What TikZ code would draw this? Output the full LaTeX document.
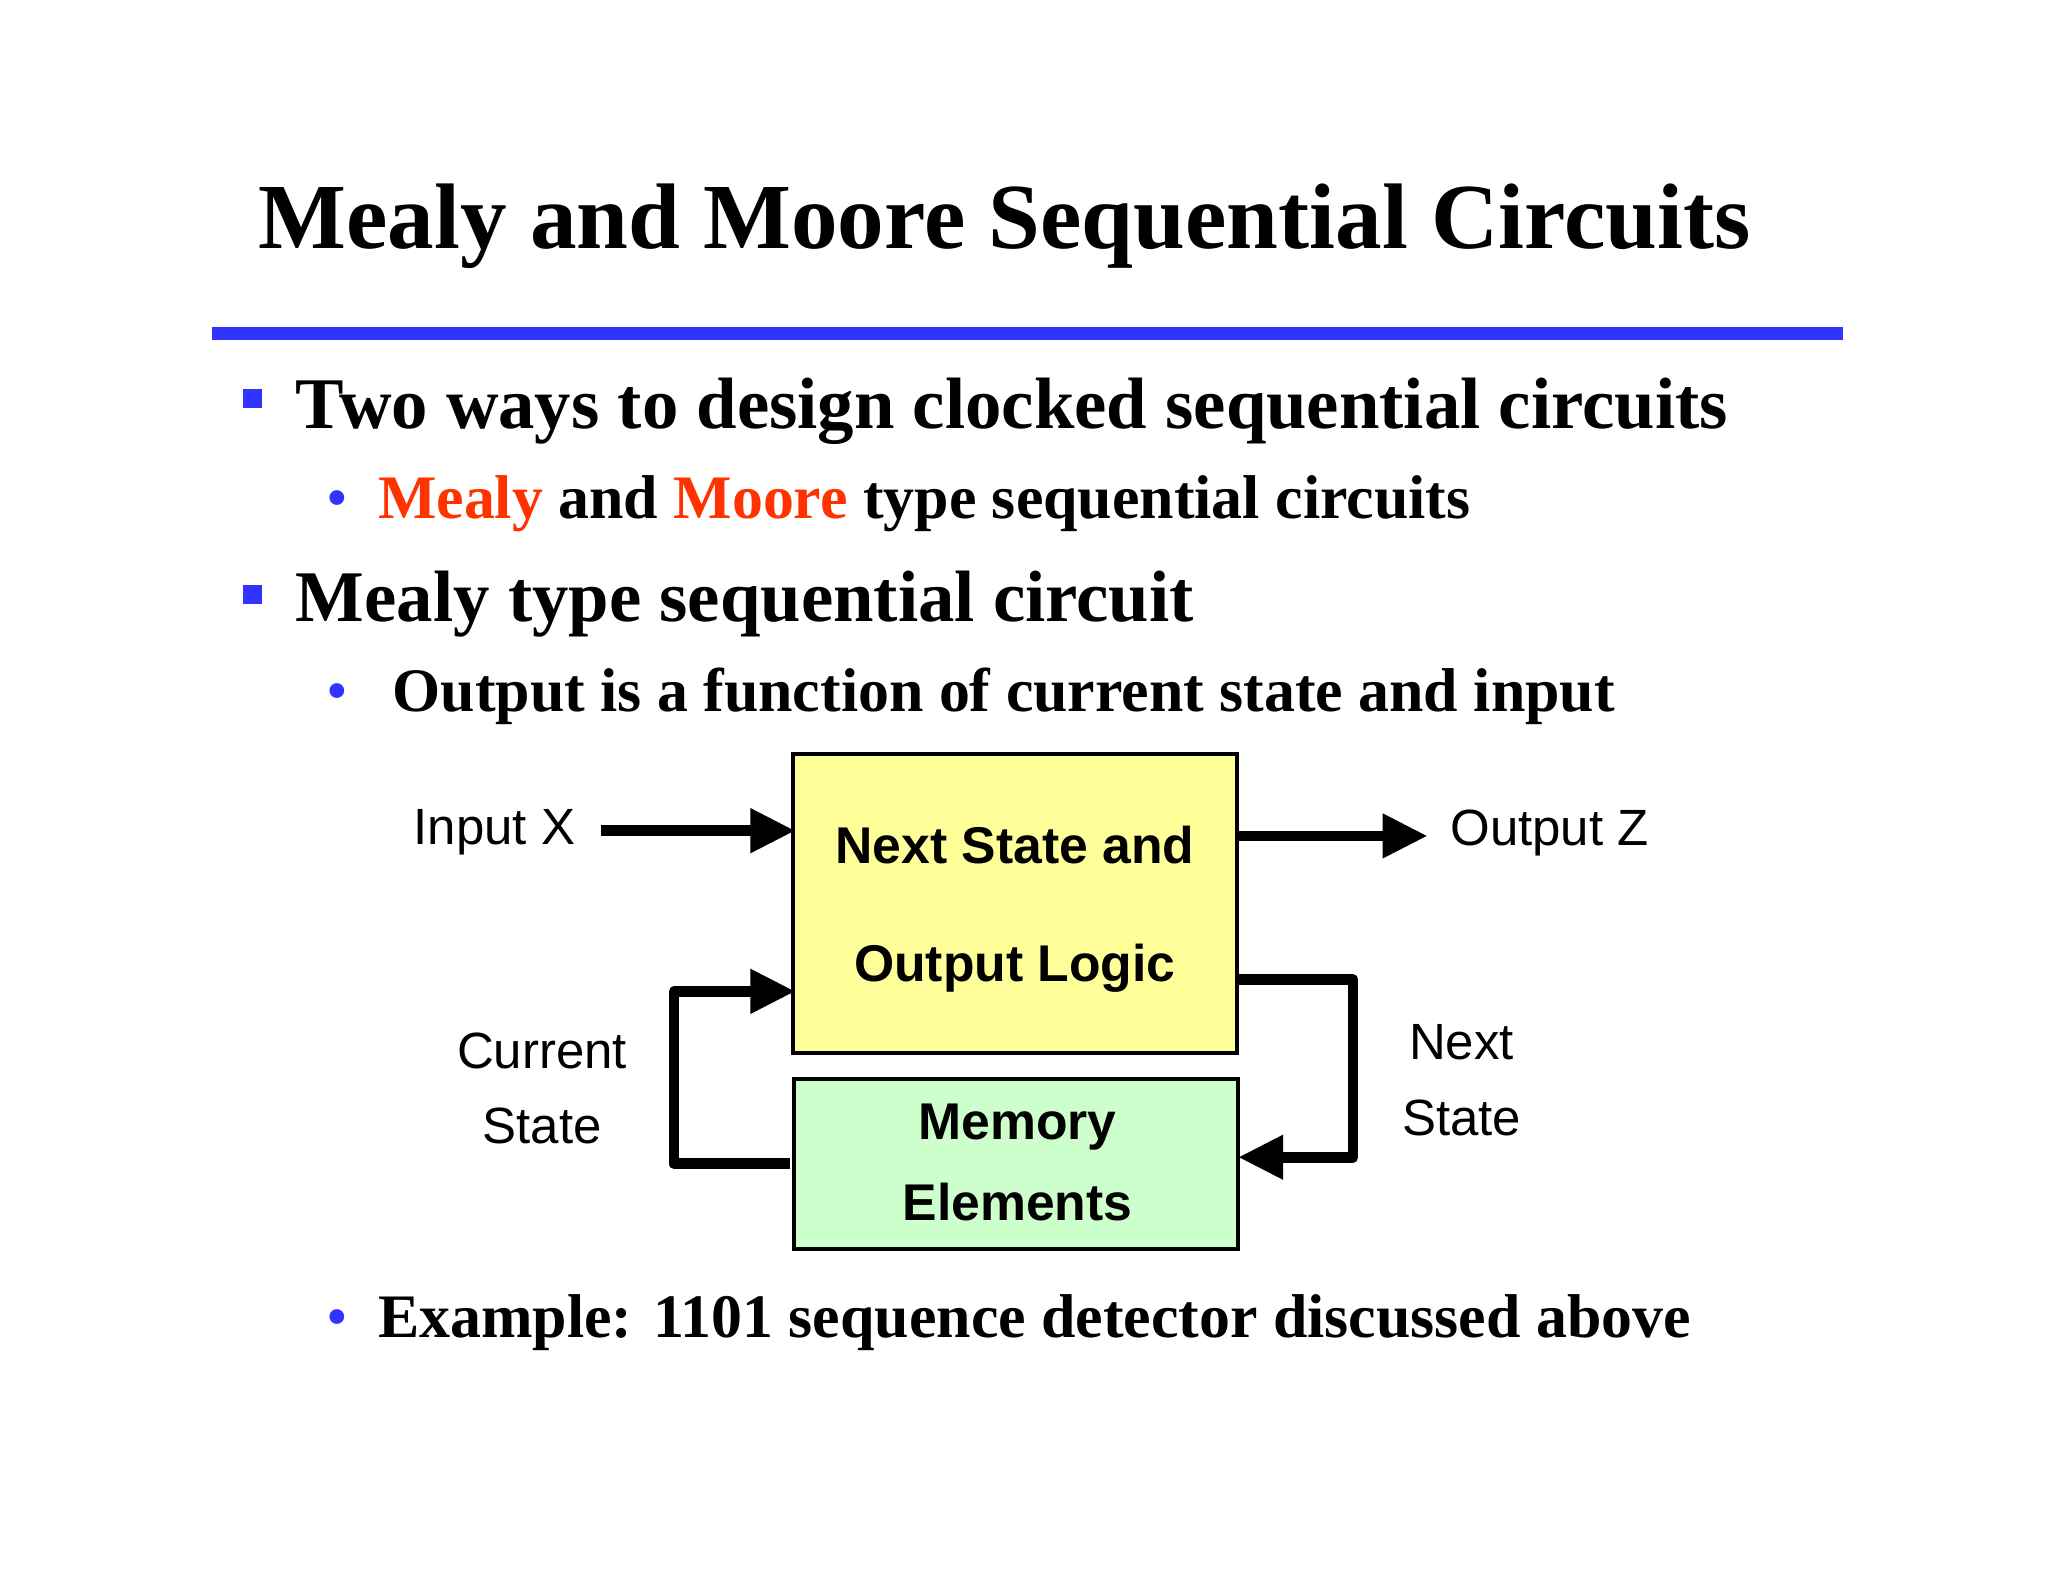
\documentclass[tikz,border=0pt]{standalone}
\usepackage{fontspec}
\setmainfont{Liberation Serif}
\newfontfamily\arial{Liberation Sans}
\usetikzlibrary{arrows.meta}
\definecolor{bl}{HTML}{3333FF}
\definecolor{rd}{HTML}{FF3300}
\definecolor{yel}{HTML}{FFFF99}
\definecolor{grn}{HTML}{CCFFCC}
\begin{document}
\begin{tikzpicture}[x={(0.01306cm,0)},y={(0,-0.01306cm)},
  box/.style={draw,line width=1.2pt,inner sep=0},
  dtxt/.style={font=\arial\fontsize{14.5}{17}\selectfont,inner sep=0},
  btxt/.style={font=\arial\bfseries\fontsize{14.7}{17}\selectfont,inner sep=0},
  conn/.style={line width=3pt,-{Triangle[length=0.45cm,width=0.42cm]}},
  sq/.style={fill=bl,minimum size=0.19cm,inner sep=0},
  dot/.style={text=bl,inner sep=0,anchor=base,font=\fontsize{17.6}{20}\selectfont}]
\useasboundingbox (0,0) rectangle (1568,1211);
\node[anchor=base,inner sep=0,font=\bfseries\fontsize{26.5}{30}\selectfont] (title) at (769,190) {Mealy and Moore Sequential Circuits};
\fill[bl] (162,250) rectangle (1411,260);
\node[sq] (s1) at (193,305) {};
\node[sq] (s2) at (193,455) {};
\node[anchor=base west,inner sep=0,font=\bfseries\fontsize{20.7}{24}\selectfont] (t1) at (226,328) {Two ways to design clocked sequential circuits};
\node[anchor=base west,inner sep=0,font=\bfseries\fontsize{20.7}{24}\selectfont] (t2) at (226,476) {Mealy type sequential circuit};
\node[dot] (d1) at (258,397) {•};
\node[dot] (d2) at (258,545) {•};
\node[dot] (d3) at (258,1024) {•};
\node[anchor=base west,inner sep=0,font=\bfseries\fontsize{17.6}{20}\selectfont] (u1) at (289,397) {\textcolor{rd}{Mealy} and \textcolor{rd}{Moore} type sequential circuits};
\node[anchor=base west,inner sep=0,font=\bfseries\fontsize{17.6}{20}\selectfont] (u2) at (300,545) {Output is a function of current state and input};
\node[anchor=base west,inner sep=0,font=\bfseries\fontsize{17.6}{20}\selectfont] (u3) at (289,1024) {Example: 1101 sequence detector discussed above};
% boxes
\draw[box,fill=yel] (607,577) rectangle (947,806);
\draw[box,fill=grn] (608,826) rectangle (948,956);
\node[btxt] (l1) at (777,647) {Next State and};
\node[btxt] (l2) at (777,741) {Output Logic};
\node[btxt] (m1) at (779,863) {Memory};
\node[btxt] (m2) at (779,920) {Elements};
\node[dtxt,anchor=east] (inx) at (441,637) {Input X};
\node[dtxt,anchor=west] (outz) at (1110,638) {Output Z};
\node[dtxt] (cs1) at (415,805) {Current};
\node[dtxt] (cs2) at (415,862) {State};
\node[dtxt] (ns1) at (1119,798) {Next};
\node[dtxt] (ns2) at (1119,856) {State};
\coordinate (a1) at (460,636); \coordinate (a2) at (609,636);
\coordinate (b1) at (947,640); \coordinate (b2) at (1093,640);
\coordinate (c1) at (947,750); \coordinate (c2) at (948,886);
\coordinate (e1) at (605,891); \coordinate (e2) at (609,759);
\draw[conn] (a1) -- (a2);
\draw[conn] (b1) -- (b2);
\draw[conn,line join=round] (c1) -- (1036,750) -- (1036,886) -- (c2);
\draw[conn,line join=round] (e1) -- (516,891) -- (516,759) -- (e2);
\end{tikzpicture}
\end{document}
